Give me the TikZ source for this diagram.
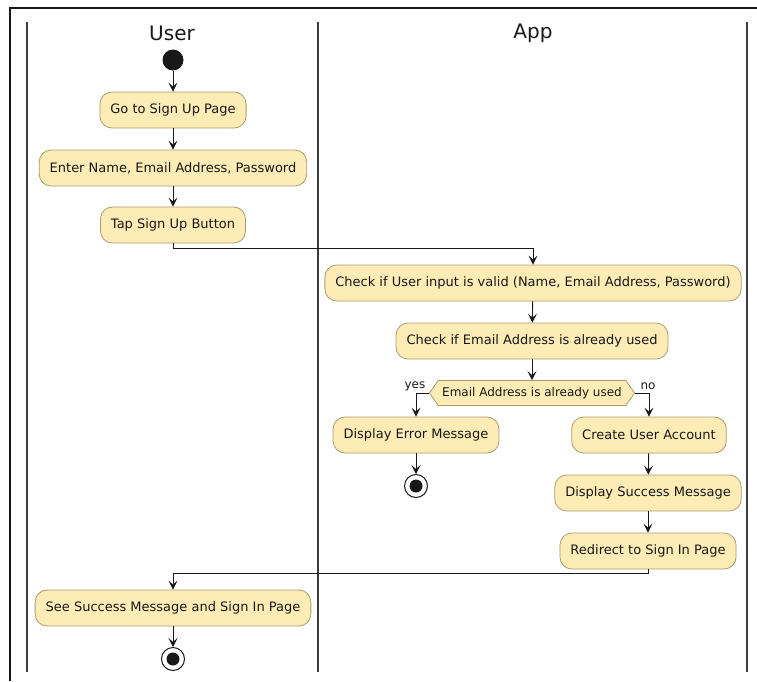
\documentclass[tikz,border=0pt]{standalone}
\usepackage{fontspec}
\setmainfont{DejaVu Sans}
\usetikzlibrary{arrows.meta,shapes.geometric,shapes.symbols}
\definecolor{actfill}{RGB}{254,236,182}
\definecolor{actline}{RGB}{170,156,110}
\definecolor{ink}{RGB}{24,24,24}
\begin{document}
\begin{tikzpicture}[x=1pt,y=-1pt,
  act/.style={draw=actline, fill=actfill, line width=0.8pt, rounded corners=12pt,
    minimum height=36pt, inner xsep=10.5pt, font=\fontsize{13}{15}\selectfont, text=ink},
  decide/.style={draw=actline, fill=actfill, line width=0.8pt, signal, signal to=west and east,
    signal pointer angle=110, minimum height=25pt, inner xsep=4pt, font=\fontsize{12}{14}\selectfont, text=ink},
  flow/.style={draw=ink, line width=0.9pt, -{Stealth[length=9pt,width=9pt,inset=4pt]}},
  lane/.style={draw=ink!85, line width=1.4pt},
  lanetitle/.style={font=\fontsize{20}{22}\selectfont, text=ink},
  startdot/.style={circle, fill=ink, minimum size=21pt, inner sep=0pt},
  stopring/.style={circle, draw=ink, fill=white, line width=1pt, minimum size=23pt, inner sep=0pt},
  stopdot/.style={circle, fill=ink, minimum size=13pt, inner sep=0pt},
  guard/.style={font=\fontsize{12}{14}\selectfont, text=ink}]
\useasboundingbox (0,0) rectangle (757,681);
\fill[white] (0,0) rectangle (757,681);

% outer frame and swimlanes
\draw[ink, line width=1.2pt] (10,681) -- (10,8) -- (757,8);
\draw[lane] (27,22) -- (27,672);
\draw[lane] (318,22) -- (318,672);
\draw[lane] (747,22) -- (747,672);
\node[lanetitle] (userT) at (172,33) {User};
\node[lanetitle] (appT) at (533,33) {App};

% User lane
\node[startdot] (start) at (173,60) {};
\node[act] (a1) at (173,110) {Go to Sign Up Page};
\node[act] (a2) at (173,168) {Enter Name, Email Address, Password};
\node[act] (a3) at (173,225) {Tap Sign Up Button};

% App lane
\node[act] (b1) at (533,283) {Check if User input is valid (Name, Email Address, Password)};
\node[act] (b2) at (532,341) {Check if Email Address is already used};
\node[decide] (d) at (532,393) {Email Address is already used};
\node[act] (e1) at (416,435) {Display Error Message};
\node[stopring] (stop1) at (416,486) {};
\node[stopdot] at (stop1) {};
\node[act] (c1) at (649,435) {Create User Account};
\node[act] (c2) at (648,493) {Display Success Message};
\node[act] (c3) at (648,551) {Redirect to Sign In Page};

% back in the User lane
\node[act] (u4) at (173,608) {See Success Message and Sign In Page};
\node[stopring] (stop2) at (173,659) {};
\node[stopdot] at (stop2) {};

% connectors
\draw[flow] (start) -- (a1);
\draw[flow] (a1) -- (a2);
\draw[flow] (a2) -- (a3);
\draw[flow] (a3.south) -- ++(0,5) -| (b1.north);
\draw[flow] (b1) -- (b2);
\draw[flow] (b2.south) -- (d.north);
\draw[flow] (d.west) -| (e1.north);
\draw[flow] (d.east) -| (c1.north);
\draw[flow] (e1) -- (stop1);
\draw[flow] (c1) -- (c2);
\draw[flow] (c2) -- (c3);
\draw[flow] (c3.south) -- ++(0,4) -| (u4.north);
\draw[flow] (u4) -- (stop2);

\node[guard] (yes) at (415,386) {yes};
\node[guard] (no) at (648,386) {no};
\end{tikzpicture}
\end{document}
